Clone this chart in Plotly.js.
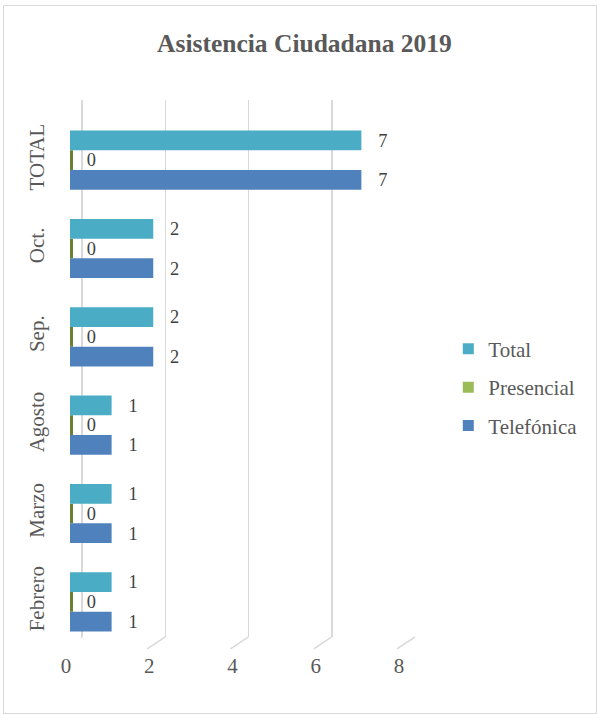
<!DOCTYPE html>
<html>
<head>
<meta charset="utf-8">
<script src="https://cdn.plot.ly/plotly-3.0.1.min.js"></script>
<style>
  html, body { margin: 0; padding: 0; background: #fff; }
  #wrap { position: relative; width: 597px; height: 715px; }
  #chart { position: absolute; left: 0; top: 0; width: 597px; height: 715px; }
  #frame { position: absolute; left: 3px; top: 5px; width: 592px; height: 707px;
           border: 1px solid #d9d9d9; pointer-events: none; }
</style>
</head>
<body>
<div id="wrap"><div id="chart"></div><div id="frame"></div></div>
<script>
// ---- data ----
const categories = ['Febrero', 'Marzo', 'Agosto', 'Sep.', 'Oct.', 'TOTAL'];
const telefonica = [1, 1, 1, 2, 2, 7];
const presencial = [0, 0, 0, 0, 0, 0];
const total      = [1, 1, 1, 2, 2, 7];
const xTicks     = [0, 2, 4, 6, 8];
const seriesNames = ['Total', 'Presencial', 'Telefónica'];

// ---- styles ----
const cTotal = '#4BACC6', cPres = '#9BBB59', cTel = '#4F81BD';
const serif = '"Liberation Serif", "Times New Roman", serif';
const txtCol = '#595959';
const pad = '\u00a0\u00a0\u00a0';

function barTrace(name, vals, color, extra) {
  return Object.assign({
    type: 'bar', orientation: 'h', name: name,
    x: vals, y: categories, xaxis: 'x2', yaxis: 'y2',
    marker: { color: color },
    texttemplate: pad + '%{x}',
    textposition: 'outside',
    cliponaxis: false,
    textfont: { family: serif, size: 20.5, color: '#404040' },
    showlegend: false, hoverinfo: 'x+y'
  }, extra || {});
}

const traces = [
  barTrace('Telefónica', telefonica, cTel),
  barTrace('Presencial', presencial, cPres, { marker: { color: cPres, line: { color: '#6B7F35', width: 6 } } }),
  barTrace('Total', total, cTotal)
];

// legend entries (drawn on the back/grid subplot so they do not affect bar grouping)
const legCols = [cTotal, cPres, cTel];
seriesNames.forEach(function (n, i) {
  traces.push({
    type: 'scatter', mode: 'markers', name: n,
    x: [null], y: [null], xaxis: 'x', yaxis: 'y',
    marker: { symbol: 'square', size: 11, color: legCols[i] },
    legendrank: i + 1, legendgroup: 'g' + i, hoverinfo: 'skip'
  });
});

// decorative floor segments of the gridlines
const shapes = xTicks.map(function (t) {
  return {
    type: 'line', xref: 'x', yref: 'y domain',
    xsizemode: 'pixel', ysizemode: 'pixel',
    xanchor: t, yanchor: 0,
    x0: 0, x1: -18, y0: 0, y1: -12,
    line: { color: '#D9D9D9', width: 1.5 }, layer: 'below'
  };
});

const layout = {
  width: 597, height: 715,
  margin: { l: 60, r: 170, t: 96, b: 65 },
  paper_bgcolor: 'rgba(0,0,0,0)', plot_bgcolor: 'rgba(0,0,0,0)',
  font: { family: serif, color: txtCol },
  title: {
    text: '<b>Asistencia Ciudadana 2019</b>',
    font: { family: serif, size: 25.5, color: txtCol },
    x: 0.51, xref: 'container', xanchor: 'center',
    y: 1 - 43 / 715, yref: 'container', yanchor: 'middle'
  },
  showlegend: true,
  legend: {
    x: 1.058, xanchor: 'left', y: 0.580, yanchor: 'top',
    font: { family: serif, size: 21, color: txtCol },
    tracegroupgap: 8, bgcolor: 'rgba(0,0,0,0)'
  },
  barmode: 'group', bargap: 0.33, bargroupgap: 0,
  // back plane (gridlines)
  xaxis: {
    domain: [0.05654, 0.96730], range: [-0.03, 8], anchor: 'y',
    tickvals: xTicks, showticklabels: false, ticks: '',
    showgrid: true, gridcolor: '#D9D9D9', gridwidth: 1.5,
    zeroline: false, showline: false, fixedrange: true
  },
  yaxis: {
    domain: [0.02347, 0.99278], range: [0, 1], anchor: 'x',
    showticklabels: false, ticks: '', showgrid: false, zeroline: false,
    showline: false, fixedrange: true
  },
  // front plane (bars)
  xaxis2: {
    domain: [0.02725, 0.93460], range: [0, 8], anchor: 'y2',
    tickvals: xTicks, ticks: '', showgrid: false, zeroline: false, showline: false,
    tickfont: { family: serif, size: 21, color: txtCol },
    ticklabelstandoff: 5, ticklabelshift: -4, fixedrange: true
  },
  yaxis2: {
    domain: [0.00722, 0.96390], type: 'category', anchor: 'x2',
    categoryorder: 'array', categoryarray: categories,
    range: [-0.5, categories.length - 0.5],
    tickangle: -90, ticks: '', showgrid: false, zeroline: false, showline: false,
    tickfont: { family: serif, size: 21, color: txtCol },
    ticklabelstandoff: 21, fixedrange: true
  },
  shapes: shapes
};

Plotly.newPlot('chart', traces, layout, { displayModeBar: false, staticPlot: true });
</script>
</body>
</html>
